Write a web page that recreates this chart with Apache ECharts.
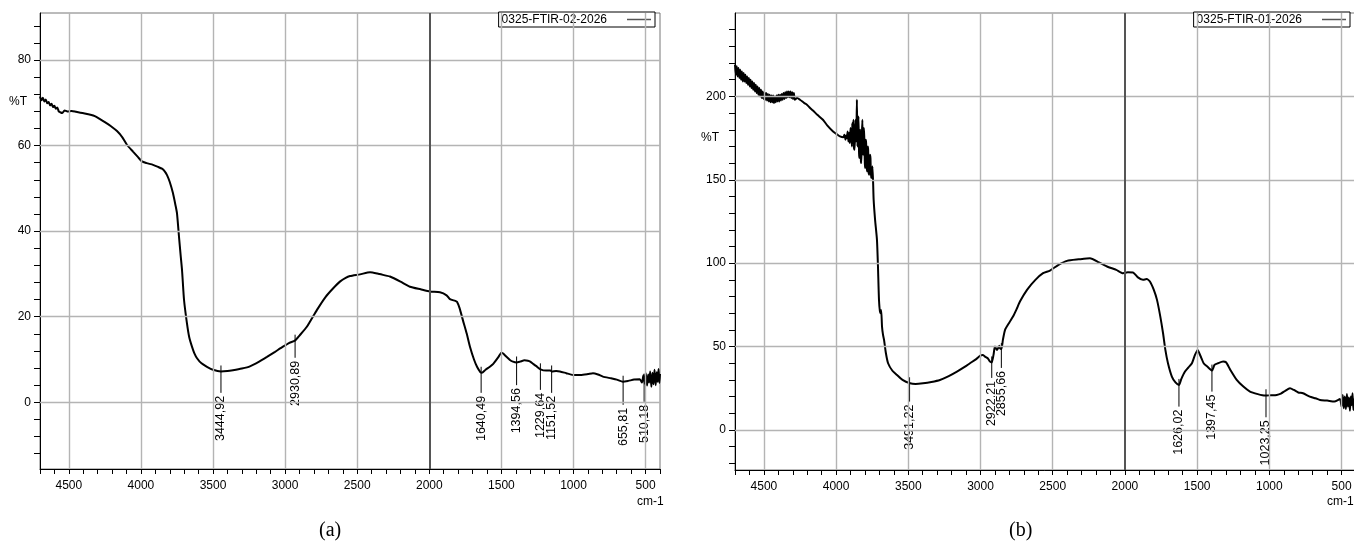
<!DOCTYPE html>
<html>
<head>
<meta charset="utf-8">
<script src="https://cdn.jsdelivr.net/npm/echarts@6/dist/echarts.min.js"></script>
<style>
html,body{margin:0;padding:0;background:#fff;}
#c{width:1354px;height:546px;}
</style>
</head>
<body>
<div id="c"></div>
<script>
// ---------- DATA ----------
const xTickLabels = [4500, 4000, 3500, 3000, 2500, 2000, 1500, 1000, 500];
const yLabelsA = [0, 20, 40, 60, 80];
const yTicksA = [-12, -8, -4, 0, 4, 8, 12, 16, 20, 24, 28, 32, 36, 40, 44, 48, 52, 56, 60, 64, 68, 72, 76, 80, 84, 88];
const yLabelsB = [0, 50, 100, 150, 200];
const yTicksB = [-20, -10, 0, 10, 20, 30, 40, 50, 60, 70, 80, 90, 100, 110, 120, 130, 140, 150, 160, 170, 180, 190, 200, 210, 220, 230, 240];

const nameA = '0325-FTIR-02-2026';
const nameB = '0325-FTIR-01-2026';

// spectrum (a): wavenumber (cm-1) and %T
const waveA = [4700,4690,4680,4670,4660,4650,4640,4630,4620,4610,4600,4590,4580,4570,4560,4545,4530,4510,4480,4450,4420,4390,4350,4320,4284,4250,4210,4166,4130,4097,4055,4020,3993,3960,3916,3880,3854,3835,3819,3800,3778,3760,3750,3736,3725,3715,3701,3681,3665,3646,3630,3611,3580,3542,3500,3445,3400,3362,3300,3244,3180,3126,3070,3015,2970,2932,2900,2848,2779,2720,2668,2620,2580,2550,2480,2411,2360,2300,2273,2200,2134,2060,1995,1926,1880,1857,1820,1808,1790,1767,1740,1718,1690,1669,1645,1635,1610,1580,1558,1520,1500,1488,1470,1441,1420,1395,1370,1340,1316,1300,1281,1260,1229,1190,1160,1151,1120,1094,1050,1004,950,900,865,830,796,740,700,657,620,580,540,525,515,505,498,490,482,475,468,460,452,445,438,430,423,416,410,404,400];
const tA    = [71.5,70.6,71.2,70.3,70.8,69.9,70.2,69.4,69.8,69.0,69.3,68.6,68.9,68.0,67.8,67.6,68.2,68.0,68.1,67.9,67.7,67.5,67.2,66.9,66.2,65.5,64.6,63.4,62.0,60.2,58.6,57.3,56.3,55.9,55.5,55.0,54.6,54.0,53.1,51.5,48.9,46.0,44.2,38.7,34.5,30.9,23.9,18.5,15.2,13.0,11.5,10.3,9.1,8.3,7.6,7.2,7.3,7.5,7.9,8.4,9.5,10.6,11.8,13.0,13.9,14.4,15.6,17.7,21.6,24.6,26.6,28.2,29.1,29.5,29.9,30.4,30.1,29.6,29.4,28.2,27.0,26.4,25.9,25.7,25.0,24.1,23.7,23.5,22.0,19.2,16.0,13.0,10.0,8.3,7.0,6.9,7.6,8.3,8.9,10.6,11.6,11.4,10.8,9.9,9.5,9.3,9.5,9.8,9.7,9.5,9.0,8.5,7.7,7.4,7.4,7.2,7.3,7.2,6.8,6.4,6.4,6.6,6.8,6.5,6.0,5.6,5.3,4.8,5.0,5.3,5.4,4.6,6.3,4.3,6.8,3.9,6.5,4.6,7.2,3.6,6.9,4.2,7.6,4.0,7.0,4.8,7.8,4.5,6.6,5.9];

// spectrum (b): noisy high-wavenumber start, then the rest
const waveB0 = [
  4700,4694,4688,4682,4676,4670,4664,4658,4652,4646,
  4640,4634,4628,4622,4616,4610,4604,4598,4592,4586,
  4580,4574,4568,4562,4556,4550,4544,4538,4532,4526,
  4520,4514,4508,4502,4496,4490,4484,4478,4472,4466,
  4460,4454,4448,4442,4436,4430,4424,4418,4412,4406,
  4400,4394,4388,4382,4376,4370,4364,4358,4352,4346,
  4340,4334,4328,4322,4316,4310,4304,4298,4292,4286];
const tB0 = [
  219,213,218,212,217,211,216,210,215,209,
  214,209,213,208,212,207,211,206,210,205,
  209,204,208,203,207,202,206,201,205,200,
  204,199,203,198.5,202.5,198,202,197.5,201.5,197,
  201,196.5,200.5,196.5,200.5,196,200,196.5,200.5,197,
  201,197,201,197.5,201.5,198,202,198.5,202.5,199,
  203,199.5,203,199.5,203,199,202.5,198.5,202,198];
const waveB1 = [4270,4250,4220,4202,4180,4160,4130,4091,4060,4021,3990,3973,3950,3942,3935,3930,3925,3920,3915,3910,3905,3900,3895,3890,3888,3884,3880,3876,3872,3868,3865,3862,3860,3856,3852,3848,3845,3841,3838,3835,3832,3828,3825,3821,3818,3815,3812,3808,3805,3801,3798,3795,3792,3788,3785,3781,3778,3774,3770,3766,3762,3758,3755,3748,3740,3730,3717,3710,3703,3695,3688,3682,3675,3668,3655,3640,3610,3578,3540,3488,3450,3398,3340,3281,3220,3163,3110,3073,3030,3004,2985,2969,2950,2934,2922,2910,2900,2885,2870,2865,2855,2845,2830,2800,2775,2750,2727,2678,2620,2567,2519,2460,2401,2320,2242,2180,2124,2060,2013,1980,1944,1910,1875,1850,1827,1800,1778,1755,1736,1720,1702,1675,1650,1626,1610,1584,1560,1536,1515,1496,1485,1470,1455,1430,1397,1380,1356,1320,1300,1270,1226,1180,1134,1080,1030,990,949,920,890,857,830,800,767,720,680,649,600,550,511,500,492,485,478,470,463,456,449,442,436,430,424,418,412,406,400];
const tB1    = [199,198,196,195,193,191.5,189,186,182.5,179,177,176,175.5,177,174,176.5,175,179,173,178,172,181,176,170,184,172,186,169,168,180,186,176,173,198,170,182,188,166,163,179,180,161,160,178,186,168,165,181,176,160,157,174,172,158,155,170,168,154,153,165,163,151,152,158,138,126,114,98,78,70,72,62,57,54,46,40,35.5,33,30,28,27.6,28,28.8,30,32.3,35,37.8,40,42.5,44.4,45,44,43,41,40.5,45,50,48,50.5,49,48.5,54,60,64.5,68,72.5,77,84,90,94,95.6,99,101.4,102.3,103,100.5,98,96,94,94.5,94.4,91.5,90,90.5,89,84,78,68,58,48,40,32,28.5,27,30.5,35,37.5,40,45,48,46,43,40,38,35.6,39,40,41,40.6,36,30,26,23,21.5,20.6,20.8,21,21.8,23.5,25,24,22.5,22,20,19,18,17.6,17,18.5,14,21,13,20,12.5,21.5,14,19.5,11.5,20,15,22,12,18.5,14.5,17];

// marked peaks: wavenumber, %T at the curve, %T where the label starts
const peaksA    = [3444.92, 2930.89, 1640.49, 1394.56, 1229.64, 1151.52, 655.81, 510.18];
const peakTA    = [7.2, 14.4, 6.9, 9.3, 7.7, 7.2, 4.8, 5.3];
const labelTA   = [2.2, 10.4, 2.2, 4.0, 2.9, 2.2, -0.6, 0.1];
const peaksB    = [3491.22, 2922.21, 2855.66, 1626.02, 1397.45, 1023.25];
const peakTB    = [28, 40.5, 48.5, 27, 35.6, 20.8];
const labelTB   = [17, 31.2, 37.2, 14, 23, 7.6];

// ---------- BUILD ----------
const FONT = '"Liberation Sans", Arial, sans-serif';
function zip(a, b) { return a.map((v, i) => [v, b[i]]); }
function zip3(a, b, c) { return a.map((v, i) => [v, b[i], c[i]]); }
const waveB = waveB0.concat(waveB1);
const tB = tB0.concat(tB1);

function xAxisCfg(gi) {
  return {
    type: 'value', gridIndex: gi, min: 400, max: 4700, interval: 100, inverse: true,
    axisLine: { show: true, onZero: false, lineStyle: { color: '#000', width: 1 } },
    axisTick: { show: true, inside: false, length: 5, lineStyle: { color: '#000', width: 1 } },
    axisLabel: {
      show: true, margin: 11, color: '#000', fontSize: 12, fontFamily: FONT,
      formatter: v => (xTickLabels.indexOf(v) >= 0 ? String(v) : ''),
      showMinLabel: true, showMaxLabel: true
    },
    splitLine: { show: false }
  };
}
function yAxisCfg(gi, min, max, ticks, labels) {
  return {
    type: 'value', gridIndex: gi, min: min, max: max,
    axisLine: { show: true, onZero: false, lineStyle: { color: '#000', width: 1 } },
    axisTick: { show: true, inside: false, length: 6, customValues: ticks, lineStyle: { color: '#000', width: 1 } },
    axisLabel: { show: true, margin: 9, color: '#000', fontSize: 12, fontFamily: FONT, customValues: labels },
    splitLine: { show: false }
  };
}
function gridSeries(gi, yLines) {
  const data = [];
  yLines.forEach(v => data.push({ yAxis: v }));
  xTickLabels.forEach(v => {
    const item = { xAxis: v };
    if (v === 2000) item.lineStyle = { color: '#555', width: 2 };
    data.push(item);
  });
  return {
    type: 'line', xAxisIndex: gi, yAxisIndex: gi, data: [], z: 1, silent: true,
    markLine: {
      silent: true, animation: false, symbol: ['none', 'none'], label: { show: false },
      lineStyle: { color: '#b4b4b4', width: 1.4, type: 'solid' },
      emphasis: { disabled: true },
      data: data
    }
  };
}
function renderPeak(params, api) {
  const w = api.value(0);
  const p = api.coord([w, api.value(1)]);
  const q = api.coord([w, api.value(2)]);
  const txt = w.toFixed(2).replace('.', ',');
  return {
    type: 'group',
    children: [
      { type: 'line', shape: { x1: p[0], y1: p[1] - 6, x2: q[0], y2: q[1] }, style: { stroke: '#000', lineWidth: 1 } },
      { type: 'text', x: q[0], y: q[1] + 1, rotation: Math.PI / 2,
        style: { text: txt, x: 0, y: 0, fill: '#000', font: '12.5px ' + FONT, align: 'right', verticalAlign: 'middle',
                 backgroundColor: '#fff', padding: [0, 2, 0, 2] } }
    ]
  };
}
function legendCfg(name, right) {
  return {
    data: [name], right: right, top: 12, orient: 'horizontal', align: 'right',
    selectedMode: false, backgroundColor: '#fff', borderColor: '#000', borderWidth: 1,
    padding: [1, 4, 1, 3], itemWidth: 24, itemHeight: 1.5, icon: 'rect',
    itemStyle: { color: '#555' },
    textStyle: { color: '#000', fontSize: 12, fontFamily: FONT, padding: [0, 15, 0, 0], lineHeight: 13 }
  };
}

const option = {
  animation: false,
  backgroundColor: '#fff',
  grid: [
    { left: 40, top: 13, width: 620, height: 456, show: true, borderColor: '#777', borderWidth: 1, containLabel: false, outerBoundsMode: 'none' },
    { left: 735, top: 13, width: 621, height: 457, show: true, borderColor: '#777', borderWidth: 1, containLabel: false, outerBoundsMode: 'none' }
  ],
  legend: [legendCfg(nameA, 699), legendCfg(nameB, 4)],
  xAxis: [xAxisCfg(0), xAxisCfg(1)],
  yAxis: [yAxisCfg(0, -15.6, 91, yTicksA, yLabelsA), yAxisCfg(1, -24, 250, yTicksB, yLabelsB)],
  series: [
    gridSeries(0, yLabelsA),
    gridSeries(1, yLabelsB),
    { name: nameA, type: 'line', xAxisIndex: 0, yAxisIndex: 0, data: zip(waveA, tA), showSymbol: false, symbol: 'none',
      smooth: 0.2, lineStyle: { color: '#000', width: 2 }, itemStyle: { color: '#000' }, z: 3, silent: true },
    { name: nameB, type: 'line', xAxisIndex: 1, yAxisIndex: 1, data: zip(waveB, tB), showSymbol: false, symbol: 'none',
      smooth: 0.2, lineStyle: { color: '#000', width: 2 }, itemStyle: { color: '#000' }, z: 3, silent: true },
    { type: 'custom', xAxisIndex: 0, yAxisIndex: 0, data: zip3(peaksA, peakTA, labelTA), renderItem: renderPeak, z: 4, silent: true, clip: false },
    { type: 'custom', xAxisIndex: 1, yAxisIndex: 1, data: zip3(peaksB, peakTB, labelTB), renderItem: renderPeak, z: 4, silent: true, clip: false }
  ],
  graphic: [
    { type: 'text', left: 9, top: 96, style: { text: '%T', font: '12px ' + FONT, fill: '#000' } },
    { type: 'text', left: 701, top: 132, style: { text: '%T', font: '12px ' + FONT, fill: '#000' } },
    { type: 'text', left: 637, top: 496, style: { text: 'cm-1', font: '12px ' + FONT, fill: '#000' } },
    { type: 'text', left: 1327, top: 496, style: { text: 'cm-1', font: '12px ' + FONT, fill: '#000' } },
    { type: 'text', left: 319, top: 521, style: { text: '(a)', font: '20px "Liberation Serif", "Times New Roman", serif', fill: '#000' } },
    { type: 'text', left: 1009, top: 521, style: { text: '(b)', font: '20px "Liberation Serif", "Times New Roman", serif', fill: '#000' } }
  ]
};

const chart = echarts.init(document.getElementById('c'), null, { renderer: 'canvas' });
chart.setOption(option);
</script>
</body>
</html>
